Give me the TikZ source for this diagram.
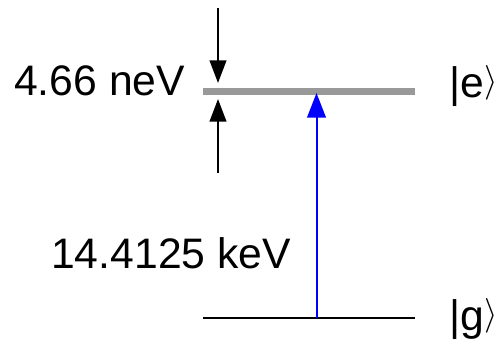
\documentclass[tikz,border=0pt]{standalone}
\usepackage{fontspec}
\setmainfont{Liberation Sans}
\usetikzlibrary{arrows.meta}
\newcommand{\ketclose}{\raisebox{4.5pt}{\resizebox*{!}{26pt}{$\rangle$}}}
\begin{document}
\begin{tikzpicture}[x=0.75pt,y=-0.75pt,
  lbl/.style={anchor=base west,inner sep=0pt,font=\fontsize{32}{38}\selectfont},
  blk/.style={line width=1.5pt,-{Triangle[length=17pt,width=12.5pt]}},
  blu/.style={line width=1.5pt,blue,-{Triangle[length=18.5pt,width=14pt]}}]
\useasboundingbox (0,0) rectangle (502,343);
% levels
\coordinate (eL) at (203,91.5);
\coordinate (eR) at (415,91.5);
\coordinate (gL) at (203,318);
\coordinate (gR) at (415,318);
\draw[line width=5pt,color=black!40] (eL) -- (eR);
\draw[line width=1.3pt] (gL) -- (gR);
% width arrows
\coordinate (a1s) at (218,8);
\coordinate (a1e) at (218,83);
\coordinate (a2s) at (218,173);
\coordinate (a2e) at (218,99);
\draw[blk] (a1s) -- (a1e);
\draw[blk] (a2s) -- (a2e);
% transition
\coordinate (ts) at (316.5,318);
\coordinate (te) at (316.5,93);
\draw[blu] (ts) -- (te);
% labels
\node[lbl] (w) at (14,95) {4.66 neV};
\node[lbl] (en) at (51,268) {14.4125 keV};
\node[lbl] (ke) at (449,97) {|e\ketclose};
\node[lbl] (kg) at (449,330) {|g\ketclose};
\end{tikzpicture}
\end{document}
